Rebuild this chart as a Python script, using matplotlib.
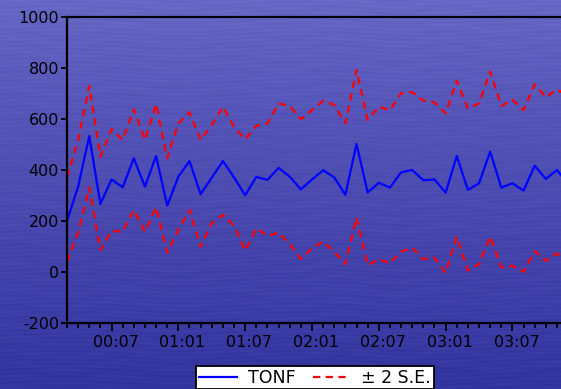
import numpy as np
import matplotlib
matplotlib.use("Agg")
import matplotlib.pyplot as plt
from matplotlib.transforms import ScaledTranslation
from matplotlib.ticker import FixedLocator, MultipleLocator

plt.rcParams["axes.unicode_minus"] = False

# Monthly forecast of TONF with +/- 2 standard-error band (obs 0 = 2000:03)
tonf = [200, 335, 533, 267, 363, 332, 446, 335, 455, 260, 374, 435, 305, 370,
        435, 371, 301, 373, 361, 408, 374, 324, 363, 399, 371, 303, 502, 312,
        350, 331, 391, 400, 360, 363, 311, 455, 322, 348, 472, 331, 348, 319,
        417, 365, 400, 345]
upper = [371, 515, 729, 452, 560, 518, 638, 518, 659, 446, 583, 626, 518, 576,
         648, 570, 520, 573, 583, 661, 651, 599, 635, 671, 655, 583, 792, 596,
         648, 635, 701, 705, 672, 665, 622, 750, 642, 661, 786, 651, 675, 635,
         736, 685, 716, 690]
lower = [40, 155, 331, 86, 161, 158, 243, 158, 254, 76, 165, 243, 99, 191,
         224, 182, 84, 171, 142, 154, 109, 51, 93, 119, 80, 31, 214, 27,
         50, 34, 80, 95, 50, 56, -3, 139, 5, 31, 139, 18, 24, 1, 82, 44,
         73, 35]
tick_obs = [4, 10, 16, 22, 28, 34, 40]
tick_labels = ["00:07", "01:01", "01:07", "02:01", "02:07", "03:01", "03:07"]
y_ticks = [-200, 0, 200, 400, 600, 800, 1000]

W, H, DPI = 561, 389, 100
fig = plt.figure(figsize=(W / DPI, H / DPI), dpi=DPI)

# blue textured backdrop
yy = np.linspace(0, 1, H)[:, None]
xx = np.linspace(0, 1, W)[None, :]
top = np.array([104, 104, 198]) / 255.0
bot = np.array([52, 52, 160]) / 255.0
t = yy ** 0.85
grad = (1 - t)[..., None] * top + t[..., None] * bot
streak = (0.008 * np.sin(2 * np.pi * (yy * 90 + 0.5 * np.sin(2 * np.pi * xx * 2.3)))
          + 0.006 * np.sin(2 * np.pi * (yy * 31 + 0.3 * np.sin(2 * np.pi * xx * 5.1 + 1.0))))
img = np.clip(grad + streak[..., None] * np.array([1, 1, 0.6]), 0, 1)
bg = fig.add_axes([0, 0, 1, 1], zorder=0)
bg.imshow(img, aspect="auto", interpolation="bilinear")
bg.axis("off")

px_per_obs = 11.136
left_px, bottom_px, top_px = 67, 323, 17
x_max = 46
ax = fig.add_axes([left_px / W, (H - bottom_px) / H,
                   x_max * px_per_obs / W, (bottom_px - top_px) / H], zorder=1)
ax.set_facecolor("none")

x = np.arange(len(tonf))
ax.plot(x, tonf, color="#0000ff", lw=1.6, label="TONF")
ax.plot(x, upper, color="#ff0000", lw=1.6, ls=(0, (3.3, 2.4)), label="\u00b1 2 S.E.")
ax.plot(x, lower, color="#ff0000", lw=1.6, ls=(0, (3.3, 2.4)))

ax.set_xlim(0, x_max)
ax.set_ylim(-200, 1000)
ax.yaxis.set_major_locator(FixedLocator(y_ticks))
ax.xaxis.set_major_locator(FixedLocator(tick_obs))
ax.xaxis.set_minor_locator(MultipleLocator(1))
ax.set_xticklabels(tick_labels)

for s in ax.spines.values():
    s.set_linewidth(1.6)
    s.set_color("black")

ax.tick_params(axis="y", direction="out", length=4.3, width=1.3, pad=1.5,
               labelsize=11.5, colors="black")
ax.tick_params(axis="x", which="major", direction="out", length=5.8, width=1.3,
               pad=2.5, labelsize=11.5, colors="black")
ax.tick_params(axis="x", which="minor", direction="out", length=3.6, width=1.3)
for lab in ax.get_xticklabels():
    lab.set_transform(lab.get_transform() + ScaledTranslation(0.04, 0, fig.dpi_scale_trans))

leg = fig.legend(loc="upper center", bbox_to_anchor=(315 / W, 1 - 366 / H),
                 ncol=2, frameon=True, fancybox=False, fontsize=12.5,
                 handlelength=2.2, handletextpad=0.6, columnspacing=1.0,
                 borderpad=0.15, borderaxespad=0, framealpha=1)
leg.get_frame().set_edgecolor("black")
leg.get_frame().set_linewidth(1.3)
leg.get_frame().set_facecolor("white")
leg.set_zorder(3)

fig.savefig("out.png", dpi=DPI)
